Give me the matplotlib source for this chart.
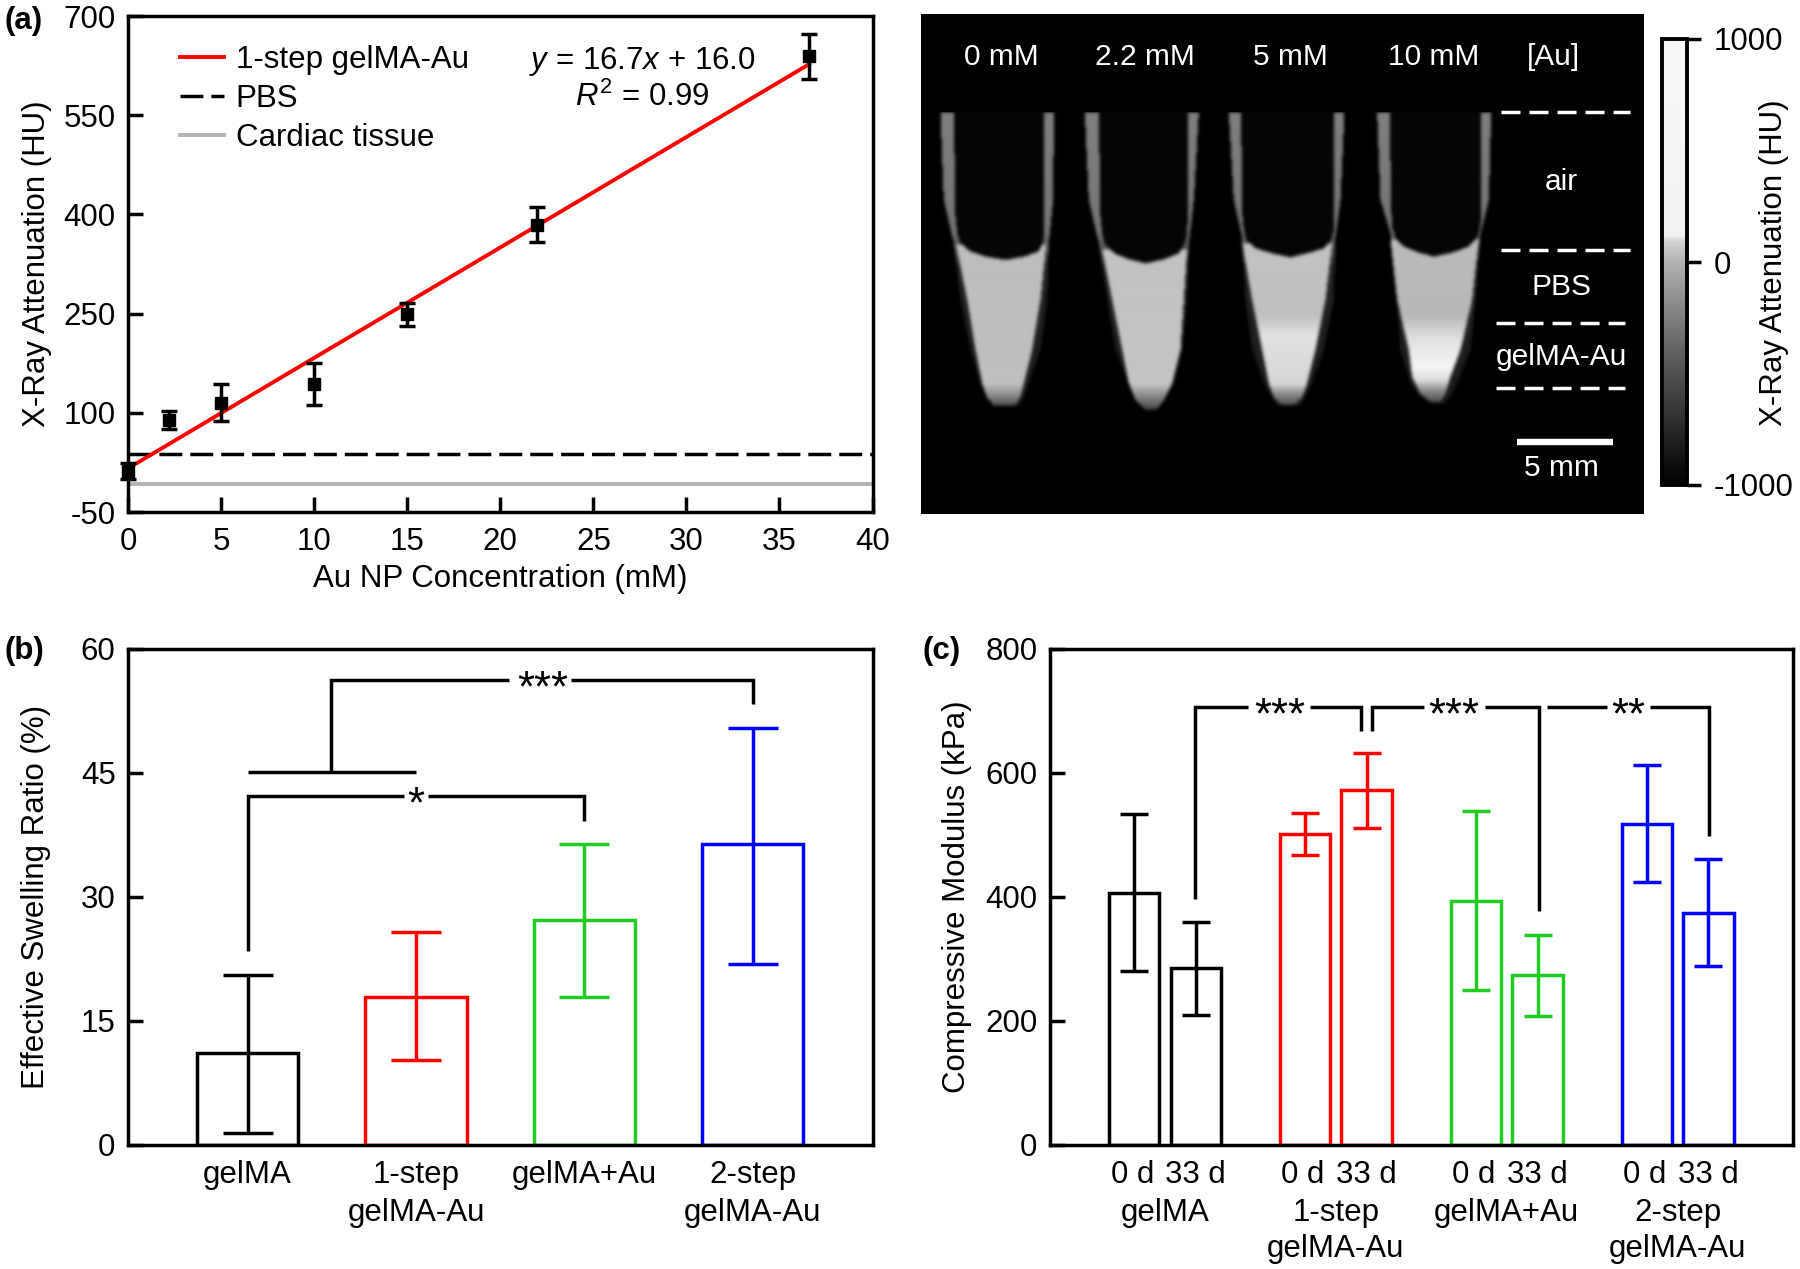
import numpy as np
import matplotlib
matplotlib.use('Agg')
from matplotlib import pyplot as plt
from matplotlib.cm import ScalarMappable
from matplotlib.colors import LinearSegmentedColormap, Normalize

plt.rcParams['font.family'] = ['Liberation Sans', 'DejaVu Sans']
plt.rcParams['mathtext.fontset'] = 'custom'
plt.rcParams['mathtext.rm'] = 'Liberation Sans'
plt.rcParams['mathtext.it'] = 'Liberation Sans:italic'
plt.rcParams['mathtext.bf'] = 'Liberation Sans:bold'
plt.rcParams['axes.unicode_minus'] = False

FS = 22.5
STAR_FS = 31.5
LW = 2.5
W, H = 1800, 1269
GREEN = '#22cc22'

# panel a
conc = [0, 2.2, 5, 10, 15, 22, 36.6]
atten = [12, 89, 115, 143, 250, 384, 639]
atten_hi = [24, 102, 143, 176, 266, 411, 673]
atten_lo = [0, 76, 87, 112, 232, 358, 605]
fit_x = [0, 36.6]
fit_y = [16.0, 627.2]
pbs_hu = 38
cardiac_hu = -7

# panel b
swell_names = ['gelMA', '1-step\ngelMA-Au', 'gelMA+Au', '2-step\ngelMA-Au']
swell = [11.1, 17.9, 27.2, 36.4]
swell_hi = [20.6, 25.8, 36.4, 50.5]
swell_lo = [1.5, 10.3, 17.9, 21.9]
group_colors = ['black', 'red', GREEN, 'blue']

# panel c
mod_names = ['gelMA', '1-step\ngelMA-Au', 'gelMA+Au', '2-step\ngelMA-Au']
mod_0d = [407, 502, 394, 518]
mod_0d_hi = [534, 536, 538, 613]
mod_0d_lo = [280, 467, 250, 425]
mod_33d = [285, 572, 274, 375]
mod_33d_hi = [360, 632, 339, 461]
mod_33d_lo = [209, 512, 208, 289]

# CT picture: tube outlines, zoomed coords (3x px from 925,100)
tubes = [
    dict(oy=[38, 300, 430, 600, 750, 850, 890, 915], ol=[45, 55, 85, 105, 135, 165, 180, 200], orr=[385, 383, 370, 365, 345, 310, 295, 280],
         cy=[38, 350, 400, 430, 455, 470, 480], cl=[85, 90, 95, 105, 135, 180, 240], cr=[357, 357, 356, 352, 338, 295, 240],
         ly=[435, 600, 750, 850, 890, 915], ll=[92, 125, 150, 170, 185, 205], lr=[362, 345, 320, 295, 285, 270],
         gy=[480, 850, 885, 915], g=[.74, .75, .55, .3]),
    dict(oy=[38, 300, 430, 600, 750, 850, 930], ol=[478, 490, 520, 545, 570, 610, 660], orr=[820, 805, 790, 785, 770, 745, 695],
         cy=[38, 350, 400, 430, 460, 478, 490], cl=[520, 525, 530, 538, 565, 610, 660], cr=[787, 787, 785, 778, 760, 715, 660],
         ly=[450, 600, 750, 850, 900, 925], ll=[530, 560, 590, 610, 630, 655], lr=[785, 775, 765, 740, 715, 695],
         gy=[490, 850, 885, 925], g=[.76, .77, .55, .3]),
    dict(oy=[38, 300, 410, 600, 750, 850, 915], ol=[910, 925, 950, 960, 980, 1015, 1055], orr=[1257, 1245, 1230, 1225, 1195, 1160, 1125],
         cy=[38, 340, 390, 420, 445, 460, 472], cl=[947, 950, 955, 962, 990, 1040, 1095], cr=[1227, 1227, 1225, 1218, 1195, 1145, 1095],
         ly=[430, 600, 750, 850, 890, 912], ll=[950, 980, 1010, 1030, 1045, 1065], lr=[1220, 1200, 1170, 1145, 1130, 1110],
         gy=[470, 645, 705, 850, 880, 915], g=[.76, .75, .88, .84, .55, .3]),
    dict(oy=[38, 300, 400, 600, 750, 850, 880, 910], ol=[1355, 1365, 1395, 1415, 1425, 1455, 1475, 1515], orr=[1697, 1690, 1665, 1650, 1635, 1595, 1580, 1560],
         cy=[38, 330, 385, 415, 440, 458, 470], cl=[1393, 1397, 1401, 1410, 1435, 1480, 1525], cr=[1667, 1667, 1664, 1655, 1630, 1580, 1525],
         ly=[420, 600, 750, 830, 880, 905], ll=[1395, 1415, 1450, 1460, 1485, 1515], lr=[1660, 1640, 1605, 1575, 1560, 1545],
         gy=[470, 645, 715, 800, 840, 870, 905], g=[.73, .72, .88, .96, .86, .55, .3]),
]
cb_hu = [-1000, -717, -417, -117, 0, 90, 123, 1000]
cb_gray = [0.0, .18, .37, .6, .7, .82, .95, .97]


def px_axes(fig, l, t, r, b):
    return fig.add_axes([l / W, 1 - b / H, (r - l) / W, (b - t) / H])


def style_axes(ax):
    for s in ax.spines.values():
        s.set_linewidth(LW)
    ax.tick_params(which='major', direction='in', length=10.5, width=LW, labelsize=FS, pad=9)


def ct_image():
    xp, yp = np.meshgrid(np.arange(921, 1644), np.arange(14, 514))
    zx = (xp - 925) * 3.0
    zy = (yp - 100) * 3.0
    img = np.zeros(xp.shape)
    for t in tubes:
        oy = np.array(t['oy'])
        in_y = (zy >= oy[0]) & (zy <= oy[-1])
        outer = in_y & (zx > np.interp(zy, oy, t['ol'])) & (zx < np.interp(zy, oy, t['orr']))
        # upper wall is brighter than the halo round the liquid
        wall = np.interp(zy, [38, 400, 500, 915], [.5, .46, .14, .1])
        img[outer] = wall[outer]
        ly = np.array(t['ly'])
        liquid = (zy >= ly[0]) & (zy <= ly[-1]) & (zx > np.interp(zy, ly, t['ll'])) & (zx < np.interp(zy, ly, t['lr']))
        img[liquid] = np.interp(zy, t['gy'], t['g'])[liquid]
        cy = np.array(t['cy'])
        cav = (zy <= cy[-1]) & (zx > np.interp(zy, cy, t['cl'])) & (zx < np.interp(zy, cy, t['cr']))
        img[cav] = 0.02
    kern = np.array([1, 3, 7, 12, 14, 12, 7, 3, 1], dtype=float)
    kern /= kern.sum()
    img = np.apply_along_axis(lambda r: np.convolve(r, kern, mode='same'), 0, img)
    img = np.apply_along_axis(lambda r: np.convolve(r, kern, mode='same'), 1, img)
    img[zy < 38] = 0
    return img


def bracket(ax, xs, ys, **kw):
    ax.plot(xs, ys, color='black', lw=LW, clip_on=False, solid_capstyle='butt', solid_joinstyle='miter', **kw)


if __name__ == '__main__':
    fig = plt.figure(figsize=(18, 12.69), dpi=100)

    # (a)
    ax = px_axes(fig, 128, 16, 872.5, 512)
    style_axes(ax)
    ax.plot(fit_x, fit_y, color='red', lw=LW + .3, label='1-step gelMA-Au', zorder=3)
    ax.axhline(pbs_hu, color='black', lw=LW, ls=(0, (6.6, 2.3)), label='PBS')
    ax.axhline(cardiac_hu, color='#b3b3b3', lw=LW + .3, label='Cardiac tissue')
    yerr = [np.subtract(atten, atten_lo), np.subtract(atten_hi, atten)]
    ax.errorbar(conc, atten, yerr=yerr, fmt='s', color='black', ms=8.5, elinewidth=LW, capsize=6, capthick=LW,
                clip_on=False, zorder=4)
    ax.set_xlim(0, 40)
    ax.set_ylim(-50, 700)
    ax.set_xticks(np.arange(0, 41, 5))
    ax.set_yticks(np.arange(-50, 701, 150))
    ax.tick_params(axis='x', pad=11)
    ax.set_xlabel('Au NP Concentration (mM)', fontsize=FS, labelpad=5)
    ax.set_ylabel('X-Ray Attenuation (HU)', fontsize=FS, va='center')
    ax.yaxis.set_label_coords((37 - 128) / 744.5, .5)
    ax.legend(loc='upper left', bbox_to_anchor=(.07, .941), frameon=False, fontsize=FS, handlelength=1.4,
              handletextpad=.38, labelspacing=.28, borderpad=0, borderaxespad=0)
    fig.text(642 / W, 1 - 61 / H, r'$\mathit{y}$ = 16.7$\mathit{x}$ + 16.0', fontsize=FS, ha='center', va='center')
    fig.text(642 / W, 1 - 97 / H, r'$\mathit{R}^{2}$ = 0.99', fontsize=FS, ha='center', va='center')

    # CT image
    ax_img = px_axes(fig, 921, 14, 1644, 514)
    ax_img.imshow(ct_image(), cmap='gray', vmin=0, vmax=1, extent=(921, 1644, 514, 14), aspect='auto',
                  interpolation='bilinear')
    ax_img.set_xlim(921, 1644)
    ax_img.set_ylim(514, 14)
    ax_img.axis('off')
    for name, x in zip(['0 mM', '2.2 mM', '5 mM', '10 mM', '[Au]'], [1001, 1145, 1290, 1434, 1553]):
        ax_img.text(x, 57, name, color='white', fontsize=21.5, ha='center', va='center')
    for name, y in zip(['air', 'PBS', 'gelMA-Au', '5 mm'], [182, 287, 357, 468]):
        ax_img.text(1561, y, name, color='white', fontsize=21.5, ha='center', va='center')
    for y, x0, x1 in [(112, 1501, 1630), (250, 1501, 1630), (323, 1496, 1625), (388, 1496, 1625)]:
        ax_img.plot([x0, x1], [y, y], color='white', lw=LW, ls=(0, (5.47, 2.6)))
    ax_img.plot([1517, 1613], [442, 442], color='white', lw=4.6, solid_capstyle='butt')

    # colorbar
    cax = px_axes(fig, 1662, 39, 1687, 485)
    cmap = LinearSegmentedColormap.from_list('ct', [((h + 1000) / 2000, (g, g, g)) for h, g in zip(cb_hu, cb_gray)])
    cb = fig.colorbar(ScalarMappable(norm=Normalize(-1000, 1000), cmap=cmap), cax=cax, ticks=[-1000, 0, 1000])
    cb.outline.set_linewidth(LW + .3)
    cax.tick_params(direction='out', length=10, width=LW, labelsize=FS, pad=9)
    cb.set_label('X-Ray Attenuation (HU)', fontsize=FS, va='center')
    cax.yaxis.set_label_coords((1774 - 1662) / 25, (485 - 263) / 446)

    # (b)
    ax = px_axes(fig, 128, 649, 872.5, 1145)
    style_axes(ax)
    xb = np.arange(4)
    ax.bar(xb, swell, width=.6, fill=False, edgecolor=group_colors, linewidth=LW)
    for i in xb:
        ax.errorbar(i, swell[i], yerr=[[swell[i] - swell_lo[i]], [swell_hi[i] - swell[i]]], color=group_colors[i],
                    elinewidth=LW, capsize=18, capthick=LW)
    ax.set_xlim(-.71, 3.71)
    ax.set_ylim(0, 60)
    ax.set_yticks(np.arange(0, 61, 15))
    ax.set_xticks(xb, labels=swell_names)
    ax.tick_params(axis='x', length=0, pad=11)
    for lab in ax.get_xticklabels():
        lab.set_linespacing(1.32)
    ax.set_ylabel('Effective Swelling Ratio (%)', fontsize=FS, va='center')
    ax.yaxis.set_label_coords((36 - 128) / 744.5, .5)
    star_b = 1.2
    bracket(ax, [0, 1], [45.1, 45.1])
    bracket(ax, [.497, .497, 1.55], [45.1, 56.25, 56.25])
    bracket(ax, [1.92, 3, 3], [56.25, 56.25, 53.3])
    ax.text(1.75, 56.25 - star_b, '***', fontsize=STAR_FS, ha='center', va='center')
    bracket(ax, [0, 0, .93], [23.5, 42.2, 42.2])
    bracket(ax, [1.07, 2, 2], [42.2, 42.2, 39.2])
    ax.text(1, 42.2 - star_b, '*', fontsize=STAR_FS, ha='center', va='center')

    # (c)
    ax = px_axes(fig, 1050, 649, 1793, 1145)
    style_axes(ax)
    xg = np.arange(4)
    off = .18
    for i in xg:
        ax.bar([i - off, i + off], [mod_0d[i], mod_33d[i]], width=.295, fill=False, edgecolor=group_colors[i], linewidth=LW)
        ax.errorbar(i - off, mod_0d[i], yerr=[[mod_0d[i] - mod_0d_lo[i]], [mod_0d_hi[i] - mod_0d[i]]],
                    color=group_colors[i], elinewidth=LW, capsize=10, capthick=LW)
        ax.errorbar(i + off, mod_33d[i], yerr=[[mod_33d[i] - mod_33d_lo[i]], [mod_33d_hi[i] - mod_33d[i]]],
                    color=group_colors[i], elinewidth=LW, capsize=10, capthick=LW)
    ax.set_xlim(-.673, 3.675)
    ax.set_ylim(0, 800)
    ax.set_yticks(np.arange(0, 801, 200))
    ax.set_xticks(np.ravel([[i - off - .012, i + off] for i in xg]), labels=['0 d', '33 d'] * 4)
    ax.set_xticks(xg, labels=mod_names, minor=True)
    ax.tick_params(axis='x', which='major', length=0, pad=11)
    ax.tick_params(axis='x', which='minor', length=0, pad=38, labelsize=FS)
    for lab in ax.get_xticklabels(minor=True):
        lab.set_linespacing(1.28)
    ax.set_ylabel('Compressive Modulus (kPa)', fontsize=FS, va='center')
    ax.yaxis.set_label_coords((957 - 1050) / 743, .5)
    star_c = 16
    bracket(ax, [.177, .177, .485], [397, 706, 706])
    bracket(ax, [.85, 1.149, 1.149], [706, 706, 668])
    ax.text(.67, 706 - star_c, '***', fontsize=STAR_FS, ha='center', va='center')
    bracket(ax, [1.212, 1.212, 1.515], [668, 706, 706])
    bracket(ax, [1.87, 2.187, 2.187], [706, 706, 377])
    ax.text(1.69, 706 - star_c, '***', fontsize=STAR_FS, ha='center', va='center')
    bracket(ax, [2.236, 2.585], [706, 706])
    bracket(ax, [2.84, 3.186, 3.186], [706, 706, 499])
    ax.text(2.71, 706 - star_c, '**', fontsize=STAR_FS, ha='center', va='center')

    # panel labels
    for name, x, y in zip(['(a)', '(b)', '(c)'], [4, 4, 922], [21, 651, 651]):
        fig.text(x / W, 1 - y / H, name, fontsize=FS, fontweight='bold', ha='left', va='center')

    fig.savefig('out.png', dpi=100)
